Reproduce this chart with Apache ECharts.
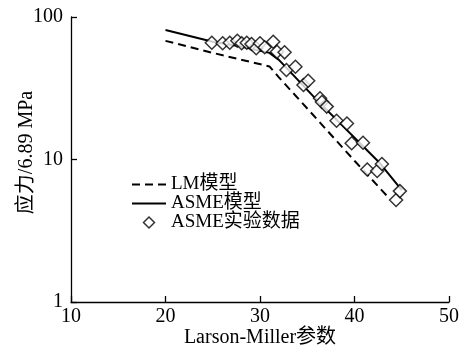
<!DOCTYPE html>
<html><head><meta charset="utf-8">
<script src="https://cdn.jsdelivr.net/npm/echarts@6/dist/echarts.min.js"></script>
<style>html,body{margin:0;padding:0;background:#fff}#c{width:461px;height:357px}</style>
</head><body><div id="c"></div>
<script>
var xTicks = [10, 20, 30, 40, 50];
var yTicks = [1, 10, 100];
var lmX = [20, 25, 31, 32, 35, 40, 43.5];
var lmY = [68, 56, 45, 37.7, 22.8, 9.8, 5.5];
var asmeX = [20, 25, 28, 31, 32, 36, 42.7, 45];
var asmeY = [81, 67, 62, 56, 50, 26.2, 9.4, 6.1];
var expX = [24.9, 26.05, 26.8, 27.6, 28.06, 28.6, 29.1, 29.6, 30.0, 30.5, 31.4, 31.8, 32.6, 32.8, 33.75, 34.6, 35.1, 36.35, 36.55, 37.06, 38.1, 39.2, 39.7, 40.9, 41.35, 42.4, 42.9, 44.4, 44.8];
var expY = [66, 65.4, 66, 68.2, 65.4, 66, 64.6, 60.3, 65.4, 61.3, 67.1, 57.1, 56.5, 42.5, 44.8, 33.3, 35.7, 26.9, 25.3, 23.5, 18.7, 17.9, 13.0, 13.1, 8.5, 8.3, 9.3, 5.2, 6.0];
var names = ['LM模型', 'ASME模型', 'ASME实验数据'];

function pairs(xs, ys){ return xs.map(function(x,i){ return [x, ys[i]]; }); }
var font = '"Liberation Serif", "Noto Sans CJK SC", serif';
var chart = echarts.init(document.getElementById('c'), null, {renderer:'canvas'});
chart.setOption({
  animation: false,
  backgroundColor: '#fff',
  color: ['#000', '#000', '#000'],
  textStyle: {fontFamily: font, color: '#000'},
  grid: {left: 71, right: 12, top: 17, bottom: 55, containLabel: false, outerBoundsMode: 'none'},
  legend: {
    orient: 'vertical', left: 126, top: 170, itemGap: 0,
    itemWidth: 34, itemHeight: 11,
    textStyle: {fontFamily: font, fontSize: 19, color: '#000', lineHeight: 19},
    data: [
      {name: names[0], itemStyle: {opacity: 0}},
      {name: names[1], itemStyle: {opacity: 0}},
      {name: names[2], icon: 'path://M0,5L5,0L10,5L5,10Z', itemStyle: {color: '#fff', borderColor: '#000', borderWidth: 1.5}}
    ]
  },
  xAxis: {
    type: 'value', min: xTicks[0], max: xTicks[xTicks.length-1], interval: 10,
    name: 'Larson-Miller参数', nameLocation: 'middle', nameGap: 26, nameMoveOverlap: false,
    nameTextStyle: {fontFamily: font, fontSize: 20, color: '#000'},
    axisLine: {lineStyle: {color: '#000', width: 1.3}},
    axisTick: {inside: true, length: 6, lineStyle: {color: '#000', width: 1.3}},
    axisLabel: {fontFamily: font, fontSize: 20, color: '#000', margin: 5},
    splitLine: {show: false}
  },
  yAxis: {
    type: 'log', logBase: 10, min: yTicks[0], max: yTicks[yTicks.length-1],
    name: '应力/6.89 MPa', nameLocation: 'middle', nameGap: 34, nameMoveOverlap: false,
    nameTextStyle: {fontFamily: font, fontSize: 20, color: '#000', padding: [0, 0, 0, 14]},
    axisLine: {lineStyle: {color: '#000', width: 1.3}},
    axisTick: {inside: true, length: 6, lineStyle: {color: '#000', width: 1.3}},
    axisLabel: {fontFamily: font, fontSize: 20, color: '#000', margin: 8},
    minorTick: {show: false},
    splitLine: {show: false}
  },
  series: [
    {name: names[0], type: 'line', data: pairs(lmX, lmY), symbol: 'none',
     itemStyle: {color: '#000'},
     lineStyle: {color: '#000', width: 2, type: [8, 5]}, z: 2},
    {name: names[1], type: 'line', data: pairs(asmeX, asmeY), symbol: 'none',
     itemStyle: {color: '#000'},
     lineStyle: {color: '#000', width: 2}, z: 2},
    {name: names[2], type: 'scatter', data: pairs(expX, expY), symbol: 'diamond', symbolSize: 13,
     itemStyle: {color: '#fff', borderColor: '#000', borderWidth: 1.5}, z: 3}
  ]
});
</script></body></html>
